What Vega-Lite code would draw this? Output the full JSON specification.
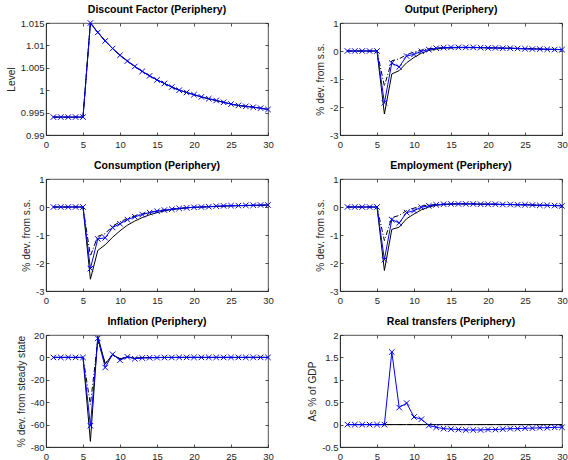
{
  "$schema": "https://vega.github.io/schema/vega-lite/v6.json",
  "padding": {"left": 5, "top": 4, "right": 2, "bottom": 0},
  "background": "white",
  "datasets": {
    "d": [
      {"p":"df","x":1,"a":0.994,"b":0.994,"c":0.994},{"p":"df","x":2,"a":0.994,"b":0.994,"c":0.994},{"p":"df","x":3,"a":0.994,"b":0.994,"c":0.994},{"p":"df","x":4,"a":0.994,"b":0.994,"c":0.994},{"p":"df","x":5,"a":0.994,"b":0.994,"c":0.994},
      {"p":"df","x":6,"a":1.015,"b":1.015,"c":1.015},{"p":"df","x":7,"a":1.0129,"b":1.0129,"c":1.0129},{"p":"df","x":8,"a":1.011,"b":1.011,"c":1.011},{"p":"df","x":9,"a":1.0093,"b":1.0093,"c":1.0093},{"p":"df","x":10,"a":1.0078,"b":1.0078,"c":1.0078},
      {"p":"df","x":11,"a":1.0065,"b":1.0065,"c":1.0065},{"p":"df","x":12,"a":1.0053,"b":1.0053,"c":1.0053},{"p":"df","x":13,"a":1.0042,"b":1.0042,"c":1.0042},{"p":"df","x":14,"a":1.0032,"b":1.0032,"c":1.0032},{"p":"df","x":15,"a":1.0023,"b":1.0023,"c":1.0023},
      {"p":"df","x":16,"a":1.0015,"b":1.0015,"c":1.0015},{"p":"df","x":17,"a":1.0007,"b":1.0007,"c":1.0007},{"p":"df","x":18,"a":1.0,"b":1.0,"c":1.0},{"p":"df","x":19,"a":0.9995,"b":0.9995,"c":0.9995},{"p":"df","x":20,"a":0.999,"b":0.999,"c":0.999},
      {"p":"df","x":21,"a":0.9985,"b":0.9985,"c":0.9985},{"p":"df","x":22,"a":0.9981,"b":0.9981,"c":0.9981},{"p":"df","x":23,"a":0.9977,"b":0.9977,"c":0.9977},{"p":"df","x":24,"a":0.9973,"b":0.9973,"c":0.9973},{"p":"df","x":25,"a":0.9969,"b":0.9969,"c":0.9969},
      {"p":"df","x":26,"a":0.9966,"b":0.9966,"c":0.9966},{"p":"df","x":27,"a":0.9964,"b":0.9964,"c":0.9964},{"p":"df","x":28,"a":0.9962,"b":0.9962,"c":0.9962},{"p":"df","x":29,"a":0.996,"b":0.996,"c":0.996},{"p":"df","x":30,"a":0.9957,"b":0.9957,"c":0.9957},

      {"p":"out","x":1,"a":0,"b":0,"c":0},{"p":"out","x":2,"a":0,"b":0,"c":0},{"p":"out","x":3,"a":0,"b":0,"c":0},{"p":"out","x":4,"a":0,"b":0,"c":0},{"p":"out","x":5,"a":0,"b":0,"c":0},
      {"p":"out","x":6,"a":-2.25,"b":-1.25,"c":-1.85},{"p":"out","x":7,"a":-0.82,"b":-0.35,"c":-0.43},{"p":"out","x":8,"a":-0.7,"b":-0.28,"c":-0.57},{"p":"out","x":9,"a":-0.42,"b":-0.13,"c":-0.18},{"p":"out","x":10,"a":-0.23,"b":-0.04,"c":-0.12},
      {"p":"out","x":11,"a":-0.08,"b":0.03,"c":-0.01},{"p":"out","x":12,"a":0.02,"b":0.08,"c":0.05},{"p":"out","x":13,"a":0.07,"b":0.1,"c":0.1},{"p":"out","x":14,"a":0.1,"b":0.12,"c":0.12},{"p":"out","x":15,"a":0.11,"b":0.12,"c":0.13},
      {"p":"out","x":16,"a":0.12,"b":0.13,"c":0.13},{"p":"out","x":17,"a":0.12,"b":0.13,"c":0.13},{"p":"out","x":18,"a":0.12,"b":0.12,"c":0.13},{"p":"out","x":19,"a":0.12,"b":0.12,"c":0.12},{"p":"out","x":20,"a":0.11,"b":0.11,"c":0.11},
      {"p":"out","x":21,"a":0.11,"b":0.11,"c":0.11},{"p":"out","x":22,"a":0.1,"b":0.1,"c":0.1},{"p":"out","x":23,"a":0.1,"b":0.1,"c":0.1},{"p":"out","x":24,"a":0.09,"b":0.09,"c":0.09},{"p":"out","x":25,"a":0.08,"b":0.08,"c":0.08},
      {"p":"out","x":26,"a":0.08,"b":0.08,"c":0.07},{"p":"out","x":27,"a":0.07,"b":0.07,"c":0.07},{"p":"out","x":28,"a":0.06,"b":0.06,"c":0.06},{"p":"out","x":29,"a":0.06,"b":0.06,"c":0.05},{"p":"out","x":30,"a":0.05,"b":0.05,"c":0.05},

      {"p":"con","x":1,"a":0,"b":0,"c":0},{"p":"con","x":2,"a":0,"b":0,"c":0},{"p":"con","x":3,"a":0,"b":0,"c":0},{"p":"con","x":4,"a":0,"b":0,"c":0},{"p":"con","x":5,"a":0,"b":0,"c":0},
      {"p":"con","x":6,"a":-2.58,"b":-1.75,"c":-2.2},{"p":"con","x":7,"a":-1.55,"b":-1.05,"c":-1.14},{"p":"con","x":8,"a":-1.35,"b":-0.95,"c":-1.1},{"p":"con","x":9,"a":-1.08,"b":-0.68,"c":-0.73},{"p":"con","x":10,"a":-0.85,"b":-0.53,"c":-0.6},
      {"p":"con","x":11,"a":-0.65,"b":-0.41,"c":-0.45},{"p":"con","x":12,"a":-0.5,"b":-0.32,"c":-0.35},{"p":"con","x":13,"a":-0.38,"b":-0.25,"c":-0.27},{"p":"con","x":14,"a":-0.28,"b":-0.19,"c":-0.2},{"p":"con","x":15,"a":-0.2,"b":-0.14,"c":-0.15},
      {"p":"con","x":16,"a":-0.14,"b":-0.1,"c":-0.11},{"p":"con","x":17,"a":-0.09,"b":-0.07,"c":-0.08},{"p":"con","x":18,"a":-0.06,"b":-0.05,"c":-0.05},{"p":"con","x":19,"a":-0.03,"b":-0.03,"c":-0.03},{"p":"con","x":20,"a":-0.01,"b":-0.01,"c":-0.01},
      {"p":"con","x":21,"a":0,"b":0,"c":0},{"p":"con","x":22,"a":0.01,"b":0.01,"c":0.01},{"p":"con","x":23,"a":0.02,"b":0.02,"c":0.03},{"p":"con","x":24,"a":0.03,"b":0.03,"c":0.04},{"p":"con","x":25,"a":0.04,"b":0.04,"c":0.05},
      {"p":"con","x":26,"a":0.05,"b":0.05,"c":0.05},{"p":"con","x":27,"a":0.05,"b":0.05,"c":0.06},{"p":"con","x":28,"a":0.06,"b":0.06,"c":0.06},{"p":"con","x":29,"a":0.06,"b":0.06,"c":0.07},{"p":"con","x":30,"a":0.07,"b":0.07,"c":0.07},

      {"p":"emp","x":1,"a":0,"b":0,"c":0},{"p":"emp","x":2,"a":0,"b":0,"c":0},{"p":"emp","x":3,"a":0,"b":0,"c":0},{"p":"emp","x":4,"a":0,"b":0,"c":0},{"p":"emp","x":5,"a":0,"b":0,"c":0},
      {"p":"emp","x":6,"a":-2.27,"b":-1.2,"c":-1.88},{"p":"emp","x":7,"a":-0.8,"b":-0.38,"c":-0.45},{"p":"emp","x":8,"a":-0.72,"b":-0.3,"c":-0.57},{"p":"emp","x":9,"a":-0.42,"b":-0.13,"c":-0.2},{"p":"emp","x":10,"a":-0.25,"b":-0.04,"c":-0.13},
      {"p":"emp","x":11,"a":-0.1,"b":0.03,"c":-0.01},{"p":"emp","x":12,"a":0,"b":0.07,"c":0.04},{"p":"emp","x":13,"a":0.06,"b":0.09,"c":0.08},{"p":"emp","x":14,"a":0.09,"b":0.1,"c":0.1},{"p":"emp","x":15,"a":0.1,"b":0.11,"c":0.11},
      {"p":"emp","x":16,"a":0.11,"b":0.11,"c":0.11},{"p":"emp","x":17,"a":0.11,"b":0.11,"c":0.11},{"p":"emp","x":18,"a":0.11,"b":0.11,"c":0.11},{"p":"emp","x":19,"a":0.1,"b":0.1,"c":0.1},{"p":"emp","x":20,"a":0.1,"b":0.1,"c":0.1},
      {"p":"emp","x":21,"a":0.1,"b":0.1,"c":0.1},{"p":"emp","x":22,"a":0.09,"b":0.09,"c":0.09},{"p":"emp","x":23,"a":0.09,"b":0.09,"c":0.09},{"p":"emp","x":24,"a":0.08,"b":0.08,"c":0.08},{"p":"emp","x":25,"a":0.08,"b":0.08,"c":0.08},
      {"p":"emp","x":26,"a":0.07,"b":0.07,"c":0.07},{"p":"emp","x":27,"a":0.06,"b":0.06,"c":0.06},{"p":"emp","x":28,"a":0.06,"b":0.06,"c":0.06},{"p":"emp","x":29,"a":0.05,"b":0.05,"c":0.05},{"p":"emp","x":30,"a":0.05,"b":0.05,"c":0.04},

      {"p":"inf","x":1,"a":0,"b":0,"c":0},{"p":"inf","x":2,"a":0,"b":0,"c":0},{"p":"inf","x":3,"a":0,"b":0,"c":0},{"p":"inf","x":4,"a":0,"b":0,"c":0},{"p":"inf","x":5,"a":0,"b":0,"c":0},
      {"p":"inf","x":6,"a":-75,"b":-42,"c":-61},{"p":"inf","x":7,"a":19,"b":15,"c":17},{"p":"inf","x":8,"a":-6,"b":-5,"c":-9},{"p":"inf","x":9,"a":2.5,"b":2,"c":2.8},{"p":"inf","x":10,"a":-1.5,"b":-1,"c":-2.5},
      {"p":"inf","x":11,"a":0.5,"b":0.4,"c":0.5},{"p":"inf","x":12,"a":-0.8,"b":-0.6,"c":-1.2},{"p":"inf","x":13,"a":-0.3,"b":-0.3,"c":-0.5},{"p":"inf","x":14,"a":-0.2,"b":-0.2,"c":-0.3},{"p":"inf","x":15,"a":-0.1,"b":-0.1,"c":-0.2},
      {"p":"inf","x":16,"a":0,"b":0,"c":-0.1},{"p":"inf","x":17,"a":0,"b":0,"c":-0.1},{"p":"inf","x":18,"a":0,"b":0,"c":0},{"p":"inf","x":19,"a":0,"b":0,"c":0},{"p":"inf","x":20,"a":0,"b":0,"c":0},
      {"p":"inf","x":21,"a":0,"b":0,"c":0},{"p":"inf","x":22,"a":0,"b":0,"c":0},{"p":"inf","x":23,"a":0,"b":0,"c":0},{"p":"inf","x":24,"a":0,"b":0,"c":0},{"p":"inf","x":25,"a":0,"b":0,"c":0},
      {"p":"inf","x":26,"a":0,"b":0,"c":0},{"p":"inf","x":27,"a":0,"b":0,"c":0},{"p":"inf","x":28,"a":0,"b":0,"c":0},{"p":"inf","x":29,"a":0,"b":0,"c":0},{"p":"inf","x":30,"a":0,"b":0,"c":0},

      {"p":"rt","x":1,"a":0,"b":0,"c":0},{"p":"rt","x":2,"a":0,"b":0,"c":0},{"p":"rt","x":3,"a":0,"b":0,"c":0},{"p":"rt","x":4,"a":0,"b":0,"c":0},{"p":"rt","x":5,"a":0,"b":0,"c":0},
      {"p":"rt","x":6,"a":0,"b":0,"c":0},{"p":"rt","x":7,"a":0,"b":0,"c":1.62},{"p":"rt","x":8,"a":0,"b":0,"c":0.38},{"p":"rt","x":9,"a":0,"b":0,"c":0.48},{"p":"rt","x":10,"a":0,"b":0,"c":0.17},
      {"p":"rt","x":11,"a":0,"b":0,"c":0.12},{"p":"rt","x":12,"a":0,"b":0,"c":-0.02},{"p":"rt","x":13,"a":0,"b":0,"c":-0.06},{"p":"rt","x":14,"a":0,"b":0,"c":-0.09},{"p":"rt","x":15,"a":0,"b":0,"c":-0.1},
      {"p":"rt","x":16,"a":0,"b":0,"c":-0.11},{"p":"rt","x":17,"a":0,"b":0,"c":-0.12},{"p":"rt","x":18,"a":0,"b":0,"c":-0.12},{"p":"rt","x":19,"a":0,"b":0,"c":-0.12},{"p":"rt","x":20,"a":0,"b":0,"c":-0.11},
      {"p":"rt","x":21,"a":0,"b":0,"c":-0.11},{"p":"rt","x":22,"a":0,"b":0,"c":-0.1},{"p":"rt","x":23,"a":0,"b":0,"c":-0.09},{"p":"rt","x":24,"a":0,"b":0,"c":-0.09},{"p":"rt","x":25,"a":0,"b":0,"c":-0.08},
      {"p":"rt","x":26,"a":0,"b":0,"c":-0.08},{"p":"rt","x":27,"a":0,"b":0,"c":-0.07},{"p":"rt","x":28,"a":0,"b":0,"c":-0.07},{"p":"rt","x":29,"a":0,"b":0,"c":-0.06},{"p":"rt","x":30,"a":0,"b":0,"c":-0.06}
    ]
  },
  "data": {"name": "d"},
  "columns": 2,
  "spacing": {"row": 44, "column": 72},
  "bounds": "flush",
  "concat": [
    {
      "title": "Discount Factor (Periphery)", "width": 222, "height": 112,
      "transform": [{"filter": "datum.p == 'df'"}],
      "layer": [
        {"mark": {"type": "line", "color": "black", "strokeWidth": 1},
         "encoding": {"x": {"field": "x", "type": "quantitative", "scale": {"domain": [0, 30], "nice": false}, "axis": {"values": [0,5,10,15,20,25,30], "title": null, "labelPadding": 7}},
                      "y": {"field": "a", "type": "quantitative", "scale": {"domain": [0.99, 1.015], "nice": false, "zero": false}, "axis": {"values": [0.99,0.995,1,1.005,1.01,1.015], "labelExpr": "'' + datum.value", "title": "Level"}}}},
        {"mark": {"type": "line", "color": "black", "strokeWidth": 1, "strokeDash": [5,2,1,2]},
         "encoding": {"x": {"field": "x", "type": "quantitative", "axis": {"orient": "top", "values": [0,5,10,15,20,25,30], "labels": false, "domain": false, "title": null}},
                      "y": {"field": "b", "type": "quantitative", "axis": {"orient": "right", "values": [0.99,0.995,1,1.005,1.01,1.015], "labels": false, "domain": false, "title": null}}}},
        {"mark": {"type": "line", "color": "#0000ff", "strokeWidth": 1},
         "encoding": {"x": {"field": "x", "type": "quantitative", "axis": null}, "y": {"field": "c", "type": "quantitative", "axis": null}}},
        {"mark": {"type": "point", "shape": "M-1,-1L1,1M1,-1L-1,1", "filled": false, "stroke": "#0000ff", "strokeWidth": 1, "size": 30, "opacity": 1},
         "encoding": {"x": {"field": "x", "type": "quantitative", "axis": null}, "y": {"field": "c", "type": "quantitative", "axis": null}}}
      ],
      "resolve": {"axis": {"x": "independent", "y": "independent"}}
    },
    {
      "title": "Output (Periphery)", "width": 222, "height": 112,
      "transform": [{"filter": "datum.p == 'out'"}],
      "layer": [
        {"mark": {"type": "line", "color": "black", "strokeWidth": 1},
         "encoding": {"x": {"field": "x", "type": "quantitative", "scale": {"domain": [0, 30], "nice": false}, "axis": {"values": [0,5,10,15,20,25,30], "title": null, "labelPadding": 7}},
                      "y": {"field": "a", "type": "quantitative", "scale": {"domain": [-3, 1], "nice": false, "zero": false}, "axis": {"values": [-3,-2,-1,0,1], "labelExpr": "'' + datum.value", "title": "% dev. from s.s."}}}},
        {"mark": {"type": "line", "color": "black", "strokeWidth": 1, "strokeDash": [5,2,1,2]},
         "encoding": {"x": {"field": "x", "type": "quantitative", "axis": {"orient": "top", "values": [0,5,10,15,20,25,30], "labels": false, "domain": false, "title": null}},
                      "y": {"field": "b", "type": "quantitative", "axis": {"orient": "right", "values": [-3,-2,-1,0,1], "labels": false, "domain": false, "title": null}}}},
        {"mark": {"type": "line", "color": "#0000ff", "strokeWidth": 1},
         "encoding": {"x": {"field": "x", "type": "quantitative", "axis": null}, "y": {"field": "c", "type": "quantitative", "axis": null}}},
        {"mark": {"type": "point", "shape": "M-1,-1L1,1M1,-1L-1,1", "filled": false, "stroke": "#0000ff", "strokeWidth": 1, "size": 30, "opacity": 1},
         "encoding": {"x": {"field": "x", "type": "quantitative", "axis": null}, "y": {"field": "c", "type": "quantitative", "axis": null}}}
      ],
      "resolve": {"axis": {"x": "independent", "y": "independent"}}
    },
    {
      "title": "Consumption (Periphery)", "width": 222, "height": 112,
      "transform": [{"filter": "datum.p == 'con'"}],
      "layer": [
        {"mark": {"type": "line", "color": "black", "strokeWidth": 1},
         "encoding": {"x": {"field": "x", "type": "quantitative", "scale": {"domain": [0, 30], "nice": false}, "axis": {"values": [0,5,10,15,20,25,30], "title": null, "labelPadding": 7}},
                      "y": {"field": "a", "type": "quantitative", "scale": {"domain": [-3, 1], "nice": false, "zero": false}, "axis": {"values": [-3,-2,-1,0,1], "labelExpr": "'' + datum.value", "title": "% dev. from s.s."}}}},
        {"mark": {"type": "line", "color": "black", "strokeWidth": 1, "strokeDash": [5,2,1,2]},
         "encoding": {"x": {"field": "x", "type": "quantitative", "axis": {"orient": "top", "values": [0,5,10,15,20,25,30], "labels": false, "domain": false, "title": null}},
                      "y": {"field": "b", "type": "quantitative", "axis": {"orient": "right", "values": [-3,-2,-1,0,1], "labels": false, "domain": false, "title": null}}}},
        {"mark": {"type": "line", "color": "#0000ff", "strokeWidth": 1},
         "encoding": {"x": {"field": "x", "type": "quantitative", "axis": null}, "y": {"field": "c", "type": "quantitative", "axis": null}}},
        {"mark": {"type": "point", "shape": "M-1,-1L1,1M1,-1L-1,1", "filled": false, "stroke": "#0000ff", "strokeWidth": 1, "size": 30, "opacity": 1},
         "encoding": {"x": {"field": "x", "type": "quantitative", "axis": null}, "y": {"field": "c", "type": "quantitative", "axis": null}}}
      ],
      "resolve": {"axis": {"x": "independent", "y": "independent"}}
    },
    {
      "title": "Employment (Periphery)", "width": 222, "height": 112,
      "transform": [{"filter": "datum.p == 'emp'"}],
      "layer": [
        {"mark": {"type": "line", "color": "black", "strokeWidth": 1},
         "encoding": {"x": {"field": "x", "type": "quantitative", "scale": {"domain": [0, 30], "nice": false}, "axis": {"values": [0,5,10,15,20,25,30], "title": null, "labelPadding": 7}},
                      "y": {"field": "a", "type": "quantitative", "scale": {"domain": [-3, 1], "nice": false, "zero": false}, "axis": {"values": [-3,-2,-1,0,1], "labelExpr": "'' + datum.value", "title": "% dev. from s.s."}}}},
        {"mark": {"type": "line", "color": "black", "strokeWidth": 1, "strokeDash": [5,2,1,2]},
         "encoding": {"x": {"field": "x", "type": "quantitative", "axis": {"orient": "top", "values": [0,5,10,15,20,25,30], "labels": false, "domain": false, "title": null}},
                      "y": {"field": "b", "type": "quantitative", "axis": {"orient": "right", "values": [-3,-2,-1,0,1], "labels": false, "domain": false, "title": null}}}},
        {"mark": {"type": "line", "color": "#0000ff", "strokeWidth": 1},
         "encoding": {"x": {"field": "x", "type": "quantitative", "axis": null}, "y": {"field": "c", "type": "quantitative", "axis": null}}},
        {"mark": {"type": "point", "shape": "M-1,-1L1,1M1,-1L-1,1", "filled": false, "stroke": "#0000ff", "strokeWidth": 1, "size": 30, "opacity": 1},
         "encoding": {"x": {"field": "x", "type": "quantitative", "axis": null}, "y": {"field": "c", "type": "quantitative", "axis": null}}}
      ],
      "resolve": {"axis": {"x": "independent", "y": "independent"}}
    },
    {
      "title": "Inflation (Periphery)", "width": 222, "height": 112,
      "transform": [{"filter": "datum.p == 'inf'"}],
      "layer": [
        {"mark": {"type": "line", "color": "black", "strokeWidth": 1},
         "encoding": {"x": {"field": "x", "type": "quantitative", "scale": {"domain": [0, 30], "nice": false}, "axis": {"values": [0,5,10,15,20,25,30], "title": null, "labelPadding": 7}},
                      "y": {"field": "a", "type": "quantitative", "scale": {"domain": [-80, 20], "nice": false, "zero": false}, "axis": {"values": [-80,-60,-40,-20,0,20], "labelExpr": "'' + datum.value", "title": "% dev. from steady state"}}}},
        {"mark": {"type": "line", "color": "black", "strokeWidth": 1, "strokeDash": [5,2,1,2]},
         "encoding": {"x": {"field": "x", "type": "quantitative", "axis": {"orient": "top", "values": [0,5,10,15,20,25,30], "labels": false, "domain": false, "title": null}},
                      "y": {"field": "b", "type": "quantitative", "axis": {"orient": "right", "values": [-80,-60,-40,-20,0,20], "labels": false, "domain": false, "title": null}}}},
        {"mark": {"type": "line", "color": "#0000ff", "strokeWidth": 1},
         "encoding": {"x": {"field": "x", "type": "quantitative", "axis": null}, "y": {"field": "c", "type": "quantitative", "axis": null}}},
        {"mark": {"type": "point", "shape": "M-1,-1L1,1M1,-1L-1,1", "filled": false, "stroke": "#0000ff", "strokeWidth": 1, "size": 30, "opacity": 1},
         "encoding": {"x": {"field": "x", "type": "quantitative", "axis": null}, "y": {"field": "c", "type": "quantitative", "axis": null}}}
      ],
      "resolve": {"axis": {"x": "independent", "y": "independent"}}
    },
    {
      "title": "Real transfers (Periphery)", "width": 222, "height": 112,
      "transform": [{"filter": "datum.p == 'rt'"}],
      "layer": [
        {"mark": {"type": "line", "color": "black", "strokeWidth": 1},
         "encoding": {"x": {"field": "x", "type": "quantitative", "scale": {"domain": [0, 30], "nice": false}, "axis": {"values": [0,5,10,15,20,25,30], "title": null, "labelPadding": 7}},
                      "y": {"field": "a", "type": "quantitative", "scale": {"domain": [-0.5, 2], "nice": false, "zero": false}, "axis": {"values": [-0.5,0,0.5,1,1.5,2], "labelExpr": "'' + datum.value", "title": "As % of GDP"}}}},
        {"mark": {"type": "line", "color": "black", "strokeWidth": 1, "strokeDash": [5,2,1,2]},
         "encoding": {"x": {"field": "x", "type": "quantitative", "axis": {"orient": "top", "values": [0,5,10,15,20,25,30], "labels": false, "domain": false, "title": null}},
                      "y": {"field": "b", "type": "quantitative", "axis": {"orient": "right", "values": [-0.5,0,0.5,1,1.5,2], "labels": false, "domain": false, "title": null}}}},
        {"mark": {"type": "line", "color": "#0000ff", "strokeWidth": 1},
         "encoding": {"x": {"field": "x", "type": "quantitative", "axis": null}, "y": {"field": "c", "type": "quantitative", "axis": null}}},
        {"mark": {"type": "point", "shape": "M-1,-1L1,1M1,-1L-1,1", "filled": false, "stroke": "#0000ff", "strokeWidth": 1, "size": 30, "opacity": 1},
         "encoding": {"x": {"field": "x", "type": "quantitative", "axis": null}, "y": {"field": "c", "type": "quantitative", "axis": null}}}
      ],
      "resolve": {"axis": {"x": "independent", "y": "independent"}}
    }
  ],
  "config": {
    "view": {"stroke": "#262626", "strokeWidth": 0.8},
    "font": "Liberation Sans",
    "axis": {"grid": false, "domainColor": "#262626", "domainWidth": 0.8, "tickColor": "#262626", "tickWidth": 0.8, "tickSize": -3,
             "labelColor": "#262626", "titleColor": "#262626", "labelFont": "Liberation Sans", "titleFont": "Liberation Sans",
             "labelFontSize": 9.5, "titleFontSize": 10.2, "titleFontWeight": "normal", "labelPadding": 5, "titlePadding": 4, "labelFlush": false},
    "title": {"font": "Liberation Sans", "fontSize": 10.5, "fontWeight": "bold", "color": "black", "offset": 3}
  }
}
